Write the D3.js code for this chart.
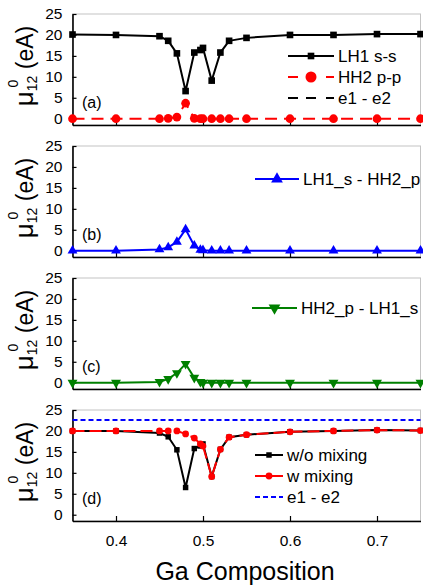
<!DOCTYPE html>
<meta charset="utf-8">
<script src="https://d3js.org/d3.v7.min.js"></script>
<style>
body { margin: 0; background: #fff; }
text { font-family: "Liberation Sans", Arial, sans-serif; fill: #000; }
</style>
<svg width="423" height="586"></svg>
<script>

// Ga composition (x) shared by every series
var gaComp = [0.35, 0.40, 0.45, 0.46, 0.47, 0.48, 0.49, 0.497, 0.50, 0.51, 0.52, 0.53, 0.55, 0.60, 0.65, 0.70, 0.75];

// panel (a)
var lh1ss = [20.1, 20.0, 19.7, 18.6, 15.6, 6.6, 15.8, 16.4, 16.9, 9.1, 15.8, 18.6, 19.3, 20.0, 20.0, 20.2, 20.2];
var hh2pp = [0, 0, 0, 0.1, 0.4, 3.7, 0.1, 0, 0, 0, 0, 0, 0, 0, 0, 0, 0];
// panel (b)
var lh1sHh2p = [0, 0, 0.3, 0.8, 2.1, 5.1, 1.2, 0.2, 0.1, 0, 0, 0, 0, 0, 0, 0, 0];
// panel (c)
var hh2pLh1s = [0, 0, 0.2, 0.9, 2.3, 4.5, 1.2, 0.2, 0, 0, 0, 0, 0, 0, 0, 0, 0];
// panel (d)
var woMixing = [20.0, 20.0, 19.5, 18.6, 15.5, 6.5, 15.8, 16.4, 16.9, 9.1, 15.6, 18.5, 19.1, 19.8, 20.0, 20.2, 20.1];
var wMixing  = [20.0, 20.0, 20.0, 20.0, 20.0, 19.3, 18.3, 16.9, 16.4, 9.1, 15.6, 18.5, 19.1, 19.8, 20.0, 20.2, 20.1];
var e1e2 = 22.6;

var yTicks = [0, 5, 10, 15, 20, 25];
var xTicks = [0.4, 0.5, 0.6, 0.7];
var panelLabels = ["(a)", "(b)", "(c)", "(d)"];

var svg = d3.select("svg");
var panelTops = [14, 146, 278, 410];
var panelH = 111;

var x = d3.scaleLinear().domain([0.35, 0.75]).range([72.5, 420.5]);

function pts(vals) {
  return gaComp.map(function(g, i) { return [g, vals[i]]; });
}

panelTops.forEach(function(top, p) {
  var y = d3.scaleLinear().domain([-1.5, 25]).range([top + panelH, top]);
  var g = svg.append("g");

  // frame: light top/right, black left/bottom
  g.append("rect")
    .attr("x", x.range()[0]).attr("y", top)
    .attr("width", x.range()[1] - x.range()[0]).attr("height", panelH)
    .attr("fill", "none").attr("stroke", "#c4c4c4").attr("stroke-width", 1);

  // y axis (ticks inward)
  var ya = g.append("g")
    .attr("transform", "translate(" + x.range()[0] + ",0)")
    .call(d3.axisLeft(y).tickValues(yTicks).tickSizeInner(-4).tickSizeOuter(0).tickPadding(10));
  ya.select(".domain").attr("stroke-width", 1.6);
  ya.selectAll("text").style("font-size", "15.5px").style("font-family", "Liberation Sans, Arial, sans-serif");
  ya.selectAll("line").attr("stroke-width", 1.2);

  // x axis (ticks inward)
  var xa = g.append("g")
    .attr("transform", "translate(0," + (top + panelH) + ")")
    .call(d3.axisBottom(x).tickValues(xTicks).tickSizeInner(-5).tickSizeOuter(0).tickPadding(14)
      .tickFormat(p == 3 ? d3.format(".1f") : ""));
  xa.select(".domain").attr("stroke-width", 1.6);
  xa.selectAll("text").style("font-size", "15.5px").style("font-family", "Liberation Sans, Arial, sans-serif");
  xa.selectAll("line").attr("stroke-width", 1.2);

  // y title
  var cy = top + 52;
  var t = g.append("text")
    .attr("transform", "translate(33," + cy + ") rotate(-90)")
    .attr("text-anchor", "middle")
    .style("font-size", "23px");
  t.append("tspan").style("font-size", "26px").text("\u03bc");
  t.append("tspan").style("font-size", "14px").attr("dy", 4).text("12");
  t.append("tspan").style("font-size", "14px").attr("dx", -11.7).attr("dy", -19).text("0");
  t.append("tspan").attr("dx", 4).attr("dy", 15).text(" (eA)");

  g.append("text")
    .attr("x", 82).attr("y", top + 94)
    .style("font-size", "16px")
    .text(panelLabels[p]);

  g.node().__y = y;
});

var panels = svg.selectAll("svg > g").nodes();

function drawLine(p, vals, color, width, dash) {
  var y = panels[p].__y;
  var line = d3.line().x(function(d) { return x(d[0]); }).y(function(d) { return y(d[1]); });
  d3.select(panels[p]).append("path")
    .datum(pts(vals))
    .attr("d", line)
    .attr("fill", "none")
    .attr("stroke", color)
    .attr("stroke-width", width)
    .attr("stroke-dasharray", dash || null);
}

function drawMarkers(p, vals, color, type, size) {
  var y = panels[p].__y;
  d3.select(panels[p]).selectAll(null)
    .data(pts(vals))
    .enter().append("path")
    .attr("transform", function(d) {
      var rot = type === "down" ? " rotate(180)" : "";
      return "translate(" + x(d[0]) + "," + y(d[1]) + ")" + rot;
    })
    .attr("d", d3.symbol().type(type === "down" ? d3.symbolTriangle : type).size(size))
    .attr("fill", color);
}

function legendRow(p, x0, x1, yy, color, width, dash, marker, msize, label) {
  var g = d3.select(panels[p]);
  g.append("line")
    .attr("x1", x0).attr("x2", x1).attr("y1", yy).attr("y2", yy)
    .attr("stroke", color).attr("stroke-width", width)
    .attr("stroke-dasharray", dash || null);
  if (marker) {
    var rot = marker === "down" ? " rotate(180)" : "";
    g.append("path")
      .attr("transform", "translate(" + ((x0 + x1) / 2) + "," + yy + ")" + rot)
      .attr("d", d3.symbol().type(marker === "down" ? d3.symbolTriangle : marker).size(msize))
      .attr("fill", color);
  }
  g.append("text")
    .attr("x", x1 + 4).attr("y", yy).attr("dy", "0.36em")
    .style("font-size", "17px")
    .text(label);
}

// (a)
drawLine(0, lh1ss, "#000", 2);
drawMarkers(0, lh1ss, "#000", d3.symbolSquare, 44);
drawLine(0, hh2pp, "#ff0000", 2, "12,7");
drawMarkers(0, hh2pp, "#ff0000", d3.symbolCircle, 60);
legendRow(0, 288, 334, 56, "#000", 2, null, d3.symbolSquare, 44, "LH1 s-s");
legendRow(0, 288, 334, 77, "#ff0000", 2, "10,8,10", d3.symbolCircle, 95, "HH2 p-p");
legendRow(0, 288, 334, 98, "#000", 2, "10,8,10", null, 0, "e1 - e2");

// (b)
drawLine(1, lh1sHh2p, "#0000ff", 2);
drawMarkers(1, lh1sHh2p, "#0000ff", d3.symbolTriangle, 42);
legendRow(1, 255, 299, 179, "#0000ff", 2, null, d3.symbolTriangle, 60, "LH1_s - HH2_p");

// (c)
drawLine(2, hh2pLh1s, "#008000", 2);
drawMarkers(2, hh2pLh1s, "#008000", "down", 42);
legendRow(2, 252, 297, 308, "#008000", 2, null, "down", 60, "HH2_p - LH1_s");

// (d)
(function() {
  var y = panels[3].__y;
  d3.select(panels[3]).append("line")
    .attr("x1", x(0.35)).attr("x2", x(0.75))
    .attr("y1", y(e1e2)).attr("y2", y(e1e2))
    .attr("stroke", "#0000ff").attr("stroke-width", 2)
    .attr("stroke-dasharray", "5,3");
})();
drawLine(3, woMixing, "#000", 2);
drawMarkers(3, woMixing, "#000", d3.symbolSquare, 30);
drawLine(3, wMixing, "#ff0000", 2, "12,5");
drawMarkers(3, wMixing, "#ff0000", d3.symbolCircle, 36);
legendRow(3, 255, 283, 455, "#000", 2, null, d3.symbolSquare, 30, "w/o mixing");
legendRow(3, 255, 283, 476, "#ff0000", 2, null, d3.symbolCircle, 36, "w mixing");
legendRow(3, 255, 283, 497, "#0000ff", 2, "5,3", null, 0, "e1 - e2");

// x title
svg.append("text")
  .attr("x", 245).attr("y", 580)
  .attr("text-anchor", "middle")
  .style("font-size", "25px")
  .text("Ga Composition");

</script>
